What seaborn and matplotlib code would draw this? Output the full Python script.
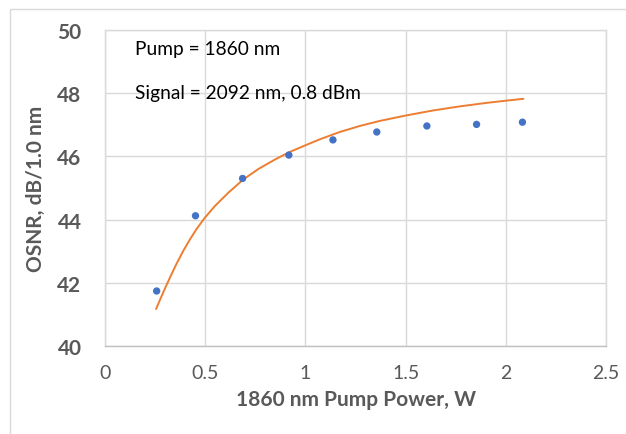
import matplotlib
matplotlib.use("Agg")
import matplotlib.pyplot as plt
import seaborn as sns
import pandas as pd
from matplotlib.patches import Rectangle

# measured OSNR points
pump_power = [0.257, 0.451, 0.686, 0.917, 1.137, 1.356, 1.606, 1.854, 2.083]
osnr = [41.74, 44.12, 45.30, 46.04, 46.52, 46.77, 46.96, 47.01, 47.08]

# trend curve
trend_power = [0.254, 0.29, 0.323, 0.356, 0.39, 0.423, 0.456, 0.498, 0.548,
               0.615, 0.69, 0.765, 0.848, 0.918, 1.0, 1.072, 1.171, 1.271,
               1.371, 1.5, 1.636, 1.77, 1.903, 2.0, 2.088]
trend_osnr = [41.17, 41.70, 42.16, 42.60, 43.01, 43.37, 43.70, 44.06, 44.43,
              44.85, 45.27, 45.60, 45.90, 46.13, 46.35, 46.54, 46.77, 46.96,
              47.12, 47.29, 47.45, 47.58, 47.69, 47.76, 47.82]

x_ticks = [0, 0.5, 1, 1.5, 2, 2.5]
y_ticks = [40, 42, 44, 46, 48, 50]

sns.set_style("whitegrid")
plt.rcParams['font.family'] = ['Lato', 'DejaVu Sans']

gray = "#595959"
fig = plt.figure(figsize=(6.26, 4.35), dpi=100)
ax = fig.add_axes([0.168, 0.2023, 0.800, 0.7267])

pts = pd.DataFrame({"x": pump_power, "y": osnr})
trend = pd.DataFrame({"x": trend_power, "y": trend_osnr})

sns.lineplot(data=trend, x="x", y="y", ax=ax, color="#ED7D31", linewidth=1.4, zorder=2)
sns.scatterplot(data=pts, x="x", y="y", ax=ax, color="#4472C4", s=28,
                edgecolor="none", zorder=3)

ax.set_xlim(0, 2.5)
ax.set_ylim(40, 50)
ax.set_xticks(x_ticks)
ax.set_xticklabels([f"{t:g}" for t in x_ticks], fontsize=14, color=gray)
ax.set_yticks(y_ticks)
ax.set_yticklabels([str(t) for t in y_ticks], fontsize=15, color=gray, fontweight="bold")
ax.tick_params(axis="x", pad=13, length=0)
ax.tick_params(axis="y", pad=17, length=0)
ax.grid(True, color="#d9d9d9", linewidth=1.0)
for s in ax.spines.values():
    s.set_color("#d9d9d9")
    s.set_linewidth(1.0)
ax.spines["bottom"].set_color("#bfbfbf")

ax.set_xlabel("1860 nm Pump Power, W", fontsize=15, color=gray, fontweight="bold", labelpad=6)
ax.set_ylabel("OSNR, dB/1.0 nm", fontsize=15, color=gray, fontweight="bold", labelpad=8)

ax.text(0.15, 49.42, "Pump = 1860 nm", fontsize=13.8, color="black", va="center")
ax.text(0.15, 48.02, "Signal = 2092 nm, 0.8 dBm", fontsize=13.8, color="black", va="center")

# outer chart border
fig.patches.append(Rectangle((10 / 626, -0.1), 1.2, 1 - 10 / 435 + 0.1,
                             transform=fig.transFigure, fill=False,
                             edgecolor="#d9d9d9", linewidth=1.0))

fig.savefig("out.png", dpi=100)
